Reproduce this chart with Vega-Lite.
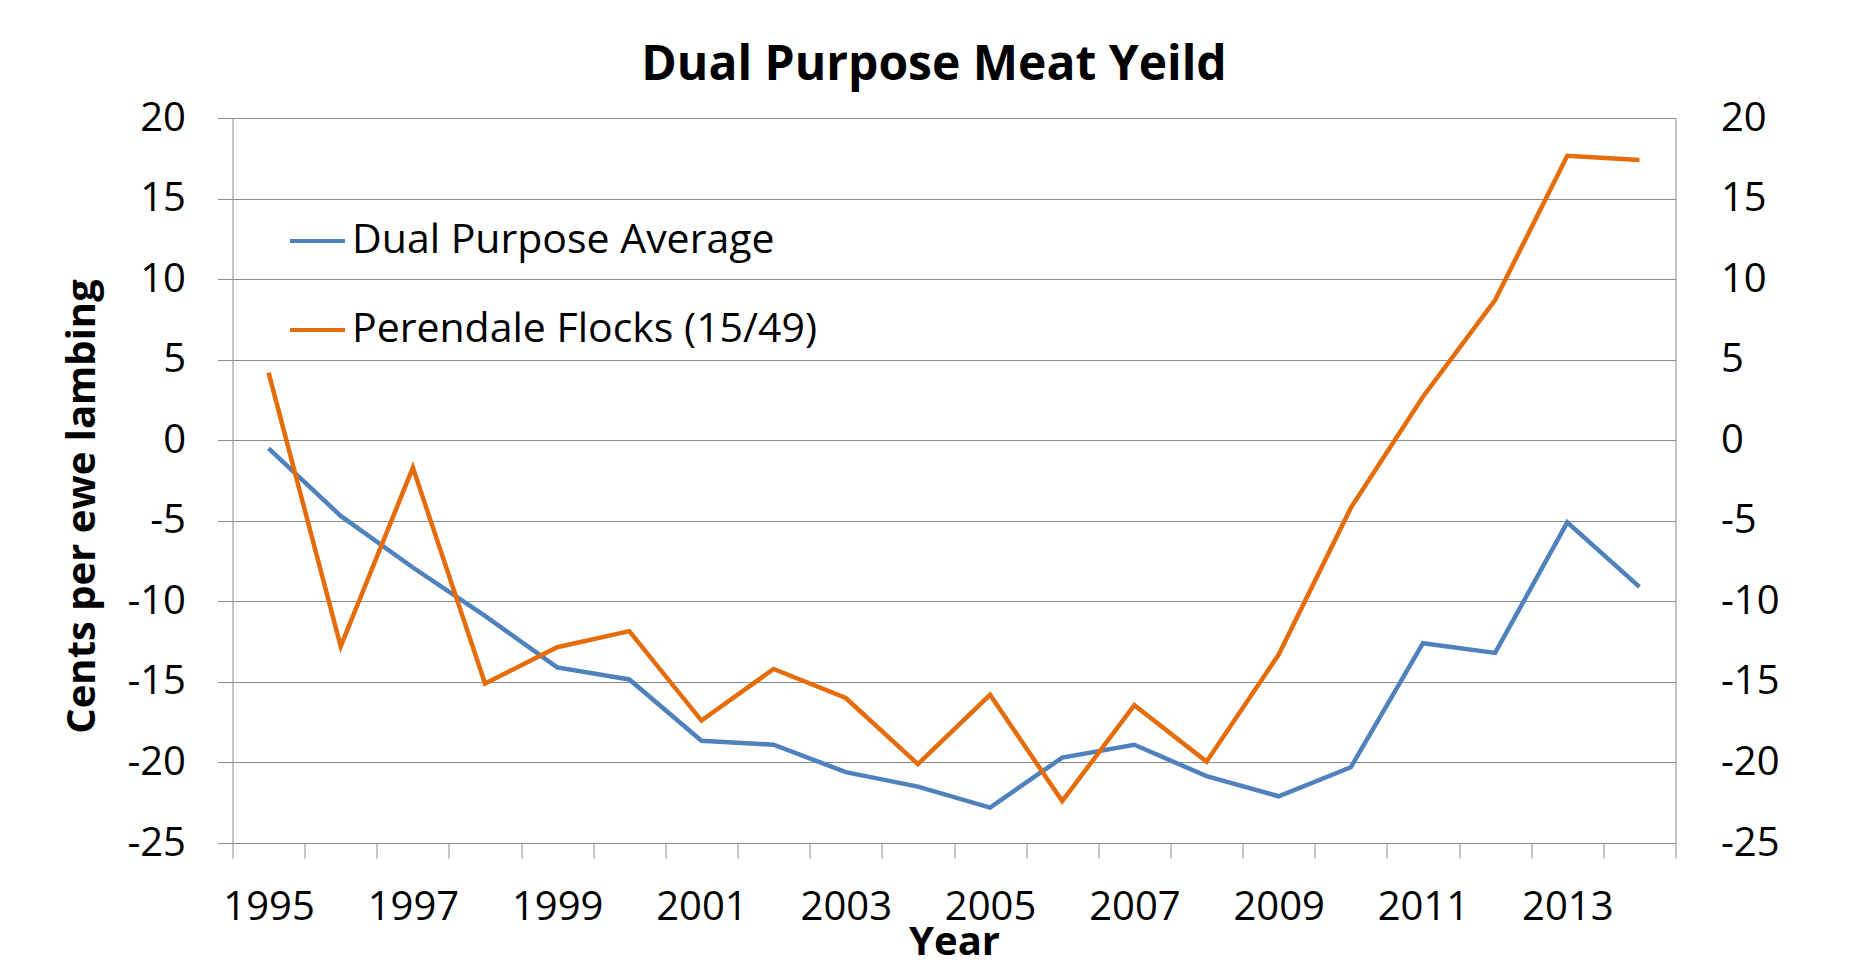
{
  "$schema": "https://vega.github.io/schema/vega-lite/v6.json",
  "width": 1443,
  "height": 725,
  "autosize": {"type": "none"},
  "padding": {"left": 232.5, "top": 118, "right": 185.5, "bottom": 125},
  "background": "white",
  "title": {
    "text": "Dual Purpose Meat Yeild",
    "font": "Open Sans",
    "fontSize": 48,
    "fontWeight": "bold",
    "color": "black",
    "anchor": "middle",
    "frame": "group",
    "dx": -20,
    "offset": -30,
    "baseline": "alphabetic"
  },
  "config": {
    "view": {"stroke": null},
    "font": "Open Sans",
    "axis": {
      "labelFont": "Open Sans",
      "labelFontSize": 40,
      "labelColor": "black",
      "titleFont": "Open Sans",
      "titleColor": "black",
      "domainColor": "#8c8c8c",
      "tickColor": "#8c8c8c",
      "gridColor": "#8c8c8c",
      "domainWidth": 1,
      "gridWidth": 1,
      "tickWidth": 1
    }
  },
  "data": {
    "values": [
      {"year": 1995, "series": "Dual Purpose Average", "value": -0.5},
      {"year": 1996, "series": "Dual Purpose Average", "value": -4.7},
      {"year": 1997, "series": "Dual Purpose Average", "value": -7.9},
      {"year": 1998, "series": "Dual Purpose Average", "value": -10.9},
      {"year": 1999, "series": "Dual Purpose Average", "value": -14.1},
      {"year": 2000, "series": "Dual Purpose Average", "value": -14.85},
      {"year": 2001, "series": "Dual Purpose Average", "value": -18.65},
      {"year": 2002, "series": "Dual Purpose Average", "value": -18.9},
      {"year": 2003, "series": "Dual Purpose Average", "value": -20.6},
      {"year": 2004, "series": "Dual Purpose Average", "value": -21.5},
      {"year": 2005, "series": "Dual Purpose Average", "value": -22.8},
      {"year": 2006, "series": "Dual Purpose Average", "value": -19.7},
      {"year": 2007, "series": "Dual Purpose Average", "value": -18.9},
      {"year": 2008, "series": "Dual Purpose Average", "value": -20.85},
      {"year": 2009, "series": "Dual Purpose Average", "value": -22.1},
      {"year": 2010, "series": "Dual Purpose Average", "value": -20.3},
      {"year": 2011, "series": "Dual Purpose Average", "value": -12.6},
      {"year": 2012, "series": "Dual Purpose Average", "value": -13.2},
      {"year": 2013, "series": "Dual Purpose Average", "value": -5.1},
      {"year": 2014, "series": "Dual Purpose Average", "value": -9.1},
      {"year": 1995, "series": "Perendale Flocks (15/49)", "value": 4.2},
      {"year": 1996, "series": "Perendale Flocks (15/49)", "value": -12.8},
      {"year": 1997, "series": "Perendale Flocks (15/49)", "value": -1.7},
      {"year": 1998, "series": "Perendale Flocks (15/49)", "value": -15.1},
      {"year": 1999, "series": "Perendale Flocks (15/49)", "value": -12.85},
      {"year": 2000, "series": "Perendale Flocks (15/49)", "value": -11.85},
      {"year": 2001, "series": "Perendale Flocks (15/49)", "value": -17.4},
      {"year": 2002, "series": "Perendale Flocks (15/49)", "value": -14.2},
      {"year": 2003, "series": "Perendale Flocks (15/49)", "value": -16.0},
      {"year": 2004, "series": "Perendale Flocks (15/49)", "value": -20.1},
      {"year": 2005, "series": "Perendale Flocks (15/49)", "value": -15.8},
      {"year": 2006, "series": "Perendale Flocks (15/49)", "value": -22.4},
      {"year": 2007, "series": "Perendale Flocks (15/49)", "value": -16.45},
      {"year": 2008, "series": "Perendale Flocks (15/49)", "value": -19.95},
      {"year": 2009, "series": "Perendale Flocks (15/49)", "value": -13.3},
      {"year": 2010, "series": "Perendale Flocks (15/49)", "value": -4.2},
      {"year": 2011, "series": "Perendale Flocks (15/49)", "value": 2.7},
      {"year": 2012, "series": "Perendale Flocks (15/49)", "value": 8.7},
      {"year": 2013, "series": "Perendale Flocks (15/49)", "value": 17.65},
      {"year": 2014, "series": "Perendale Flocks (15/49)", "value": 17.4}
    ]
  },
  "layer": [
    {
      "mark": {"type": "line", "strokeWidth": 4.5},
      "encoding": {
        "x": {
          "field": "year",
          "type": "quantitative",
          "scale": {"domain": [1994.5, 2014.5], "nice": false, "zero": false},
          "axis": {
            "values": [1994.5, 1995.5, 1996.5, 1997.5, 1998.5, 1999.5, 2000.5, 2001.5, 2002.5, 2003.5, 2004.5, 2005.5, 2006.5, 2007.5, 2008.5, 2009.5, 2010.5, 2011.5, 2012.5, 2013.5, 2014.5],
            "labelExpr": "((datum.value - 1994.5) % 2 == 0 && datum.value < 2014) ? format(datum.value + 0.5, 'd') : ''",
            "labelOffset": 36.08,
            "labelOverlap": false,
            "labelFlush": false,
            "labelBound": false,
            "labelPadding": 29,
            "tickSize": 15,
            "grid": false,
            "title": "Year",
            "titleFontSize": 40,
            "titleFontWeight": "bold",
            "titleBaseline": "alphabetic",
            "titleY": 111
          }
        },
        "y": {
          "field": "value",
          "type": "quantitative",
          "scale": {"domain": [-25, 20], "nice": false, "zero": false},
          "axis": {
            "values": [-25, -20, -15, -10, -5, 0, 5, 10, 15, 20],
            "labelExpr": "'' + datum.value",
            "tickSize": 15,
            "labelPadding": 32,
            "grid": true,
            "title": "Cents per ewe lambing",
            "titleFontSize": 40,
            "titleFontWeight": "bold",
            "titleAngle": 270,
            "titleBaseline": "alphabetic",
            "titleAlign": "center",
            "titleX": -138.5,
            "titleY": 388
          }
        },
        "color": {
          "field": "series",
          "type": "nominal",
          "scale": {
            "domain": ["Dual Purpose Average", "Perendale Flocks (15/49)"],
            "range": ["#4F81BD", "#E46C0A"]
          },
          "legend": {
            "orient": "none",
            "legendX": 55.5,
            "legendY": 93.5,
            "title": null,
            "direction": "vertical",
            "symbolType": "stroke",
            "symbolSize": 3025,
            "symbolStrokeWidth": 4,
            "labelFont": "Open Sans",
            "labelFontSize": 41,
            "labelColor": "black",
            "labelOffset": 5,
            "labelLimit": 1000,
            "rowPadding": 39,
            "padding": 0
          }
        }
      }
    },
    {
      "mark": {"type": "line", "opacity": 0},
      "encoding": {
        "x": {"field": "year", "type": "quantitative"},
        "y": {
          "field": "value",
          "type": "quantitative",
          "scale": {"domain": [-25, 20], "nice": false, "zero": false},
          "axis": {
            "orient": "right",
            "values": [-25, -20, -15, -10, -5, 0, 5, 10, 15, 20],
            "labelExpr": "'' + datum.value",
            "ticks": false,
            "tickSize": 0,
            "labelPadding": 45,
            "grid": false,
            "title": null
          }
        },
        "detail": {"field": "series", "type": "nominal"}
      }
    }
  ],
  "resolve": {"scale": {"y": "independent"}}
}
